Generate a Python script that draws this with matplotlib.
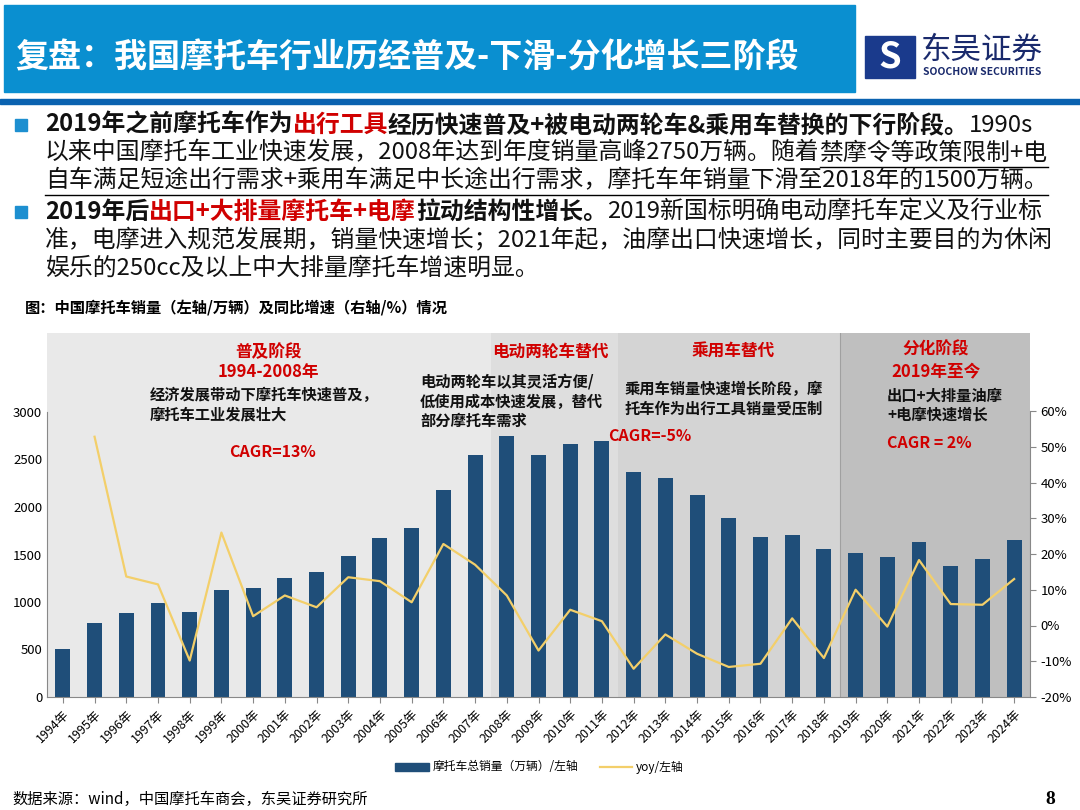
import matplotlib
matplotlib.use("Agg")
import matplotlib.pyplot as plt
from matplotlib.patches import Rectangle
from matplotlib.lines import Line2D
import numpy as np

plt.rcParams['font.family'] = ['Noto Sans CJK SC', 'DejaVu Sans']

years = [f"{y}年" for y in range(1994, 2025)]
sales = [510, 780, 885, 985, 890, 1125, 1150, 1250, 1315, 1485, 1670, 1775, 2180, 2545, 2750,
         2545, 2665, 2690, 2365, 2305, 2130, 1880, 1680, 1710, 1555, 1520, 1475, 1630, 1375, 1455, 1650]
yoy = [np.nan, 52.8, 13.7, 11.5, -9.8, 26.0, 2.6, 8.4, 5.1, 13.5, 12.4, 6.5, 22.8, 17.0, 8.4,
       -7.0, 4.4, 1.2, -12.1, -2.5, -7.9, -11.6, -10.7, 2.0, -9.1, 10.0, -0.3, 18.3, 6.0, 5.8, 13.0]
left_ticks = [0, 500, 1000, 1500, 2000, 2500, 3000]
right_ticks = [-20, -10, 0, 10, 20, 30, 40, 50, 60]

W, H = 1080, 810
fig = plt.figure(figsize=(10.8, 8.1), dpi=100)
def P(x, y):
    return (x / W, 1 - y / H)

# header
fig.patches.append(Rectangle(P(4, 92), 851 / W, 87 / H, transform=fig.transFigure, color='#0a8fd0', zorder=0))
fig.patches.append(Rectangle(P(0, 104), 1, 5 / H, transform=fig.transFigure, color='#0a62b0', zorder=0))
fig.text(*P(15, 58), "复盘：我国摩托车行业历经普及-下滑-分化增长三阶段", color='white', fontsize=23.8,
         fontweight='bold', va='center')
# logo
fig.patches.append(Rectangle(P(865, 78), 50 / W, 42 / H, transform=fig.transFigure, color='#1a3a8c', zorder=1))
fig.text(*P(890, 57), "S", color='white', fontsize=26, fontweight='bold', ha='center', va='center', style='italic')
fig.text(*P(921, 50), "东吴证券", color='#1a2a6c', fontsize=22, va='center')
fig.text(*P(923, 72), "SOOCHOW SECURITIES", color='#1a2a6c', fontsize=7.5, fontweight='bold', va='center')

renderer = fig.canvas.get_renderer()

def seq(x, y, parts, fs=17.2, underline_from=None):
    cur = x
    for i, (txt, col, bold) in enumerate(parts):
        t = fig.text(cur / W, 1 - y / H, txt, color=col, fontsize=fs,
                     fontweight='bold' if bold else 'normal', va='center')
        bb = t.get_window_extent(renderer)
        if underline_from is not None and i >= underline_from:
            fig.lines.append(Line2D([cur / W, (cur + bb.width) / W], [1 - (y + 14) / H] * 2,
                                    transform=fig.transFigure, color='black', lw=1))
        cur += bb.width

R = '#d00000'
K = '#111111'
for yb in (125, 212):
    fig.patches.append(Rectangle(P(15, yb + 6), 12 / W, 12 / H, transform=fig.transFigure, color='#1d8fd0'))
seq(45, 125, [("2019年之前摩托车作为", K, True), ("出行工具", R, True),
              ("经历快速普及+被电动两轮车&乘用车替换的下行阶段。", K, True), ("1990s", K, False)])
seq(45, 153, [("以来中国摩托车工业快速发展，2008年达到年度销量高峰2750万辆。随着", K, False),
              ("禁摩令等政策限制+电", K, False)], underline_from=1)
seq(45, 181, [("自车满足短途出行需求+乘用车满足中长途出行需求，摩托车年销量下滑至2018年的1500万辆。", K, False)],
    underline_from=0)
seq(45, 212, [("2019年后", K, True), ("出口+大排量摩托车+电摩", R, True), ("拉动结构性增长。", K, True),
              ("2019新国标明确电动摩托车定义及行业标", K, False)])
seq(45, 240, [("准，电摩进入规范发展期，销量快速增长；2021年起，油摩出口快速增长，同时主要目的为休闲", K, False)])
seq(45, 268, [("娱乐的250cc及以上中大排量摩托车增速明显。", K, False)])
fig.text(*P(25, 308), "图：中国摩托车销量（左轴/万辆）及同比增速（右轴/%）情况", fontsize=11, fontweight='bold', va='center')

# chart
ax = fig.add_axes([47 / W, 1 - 697 / H, (1030 - 47) / W, (697 - 333) / H])
x = np.arange(len(years))
ymax = 3000 * (697 - 333) / (697 - 412)
ax.set_xlim(-0.5, len(years) - 0.5)
ax.set_ylim(0, ymax)
ax.set_facecolor('none')
for (a, b, c) in [(-0.6, 13.5, '#e9e9e9'), (13.5, 17.5, '#dedede'), (17.5, 24.5, '#d4d4d4'), (24.5, 30.5, '#bfbfbf')]:
    ax.axvspan(a, b, color=c, zorder=0, lw=0)
ax.axvline(24.5, color='#a0a0a0', lw=0.8, zorder=0.5)
ax.bar(x, sales, width=0.47, color='#1f4e79', zorder=2)
ax.set_yticks(left_ticks)
ax.set_xticks(x)
ax.set_xticklabels(years, rotation=45, ha='right', fontsize=9, rotation_mode='anchor')
ax.tick_params(axis='y', labelsize=9.5, length=0)
ax.tick_params(axis='x', length=4, color='#888888')
for s in ('top', 'right'):
    ax.spines[s].set_visible(False)
ax.spines['left'].set_bounds(0, 3000)
ax.spines['left'].set_color('#888888')
ax.spines['bottom'].set_color('#888888')

ax2 = ax.twinx()
ax2.set_ylim(-20, -20 + 80 * (697 - 333) / (697 - 411))
ax2.plot(x, yoy, color='#f3cf6a', lw=1.6, zorder=3)
ax2.set_yticks(right_ticks)
ax2.set_yticklabels([f"{t}%" for t in right_ticks], fontsize=9.5)
ax2.tick_params(axis='y', length=4, color='#888888')
for s in ('top', 'left', 'bottom'):
    ax2.spines[s].set_visible(False)
ax2.spines['right'].set_bounds(-20, 60)
ax2.spines['right'].set_color('#888888')

def T(px, py, s, col=K, fs=11, ha='left', bold=True):
    fig.text(*P(px, py), s, color=col, fontsize=fs, ha=ha, va='center', fontweight='bold' if bold else 'normal',
             linespacing=1.25)

T(268, 352, "普及阶段", R, 12, 'center')
T(268, 372, "1994-2008年", R, 12, 'center')
T(150, 405, "经济发展带动下摩托车快速普及，\n摩托车工业发展壮大")
T(272, 452, "CAGR=13%", R, 11.5, 'center')
T(550, 352, "电动两轮车替代", R, 12, 'center')
T(420, 402, "电动两轮车以其灵活方便/\n低使用成本快速发展，替代\n部分摩托车需求")
T(733, 352, "乘用车替代", R, 12, 'center')
T(625, 399, "乘用车销量快速增长阶段，摩\n托车作为出行工具销量受压制")
T(608, 436, "CAGR=-5%", R, 11.5)
T(936, 350, "分化阶段", R, 12, 'center')
T(936, 371, "2019年至今", R, 12, 'center')
T(887, 405, "出口+大排量油摩\n+电摩快速增长")
T(887, 443, "CAGR = 2%", R, 11.5)

# legend
fig.patches.append(Rectangle(P(395, 771), 34 / W, 8 / H, transform=fig.transFigure, color='#1f4e79'))
fig.text(*P(433, 767), "摩托车总销量（万辆）/左轴", fontsize=8.5, va='center')
fig.lines.append(Line2D([P(600, 0)[0], P(632, 0)[0]], [P(0, 767)[1]] * 2, transform=fig.transFigure,
                        color='#f3cf6a', lw=1.6))
fig.text(*P(636, 767), "yoy/左轴", fontsize=8.5, va='center')

fig.text(*P(12, 799), "数据来源：wind，中国摩托车商会，东吴证券研究所", fontsize=11, va='center')
fig.text(*P(1050, 799), "8", fontsize=14, va='center', ha='center', family='Liberation Serif', fontweight='bold')

fig.savefig("out.png", dpi=100)
